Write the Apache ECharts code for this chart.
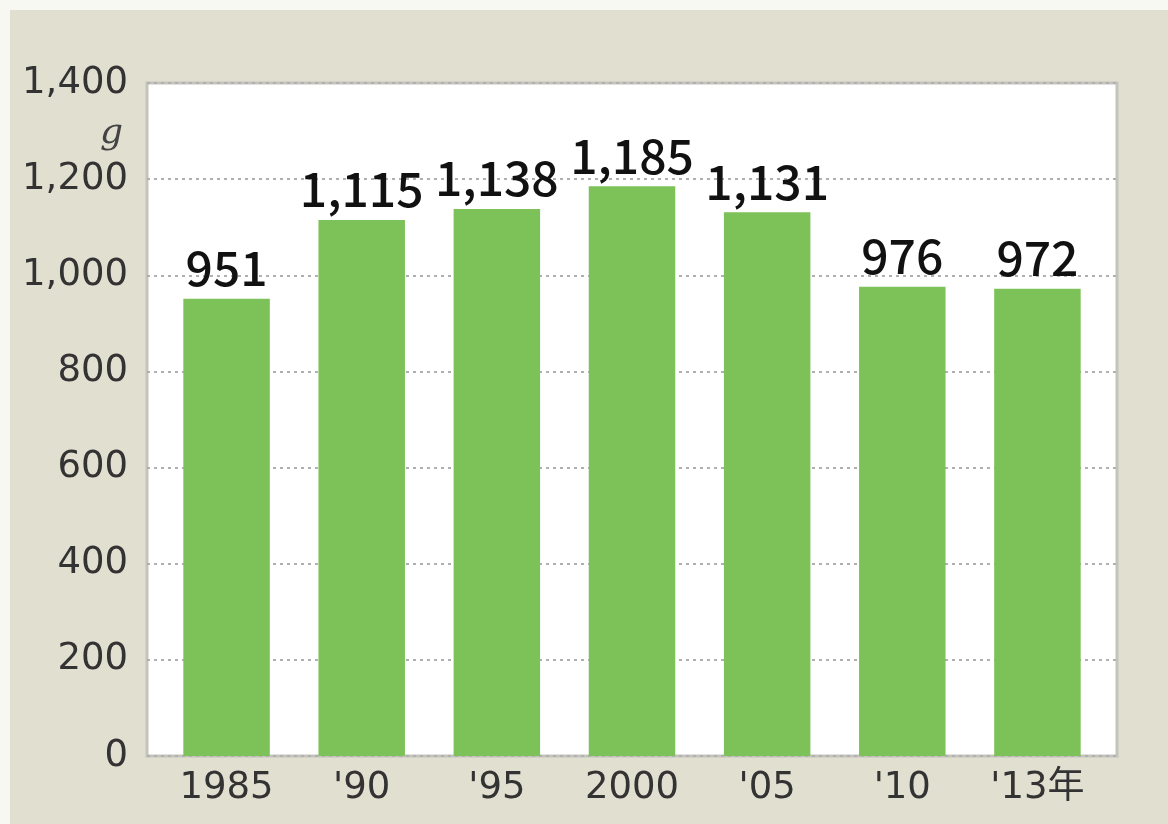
<!DOCTYPE html>
<html>
<head>
<meta charset="utf-8">
<script src="https://cdn.jsdelivr.net/npm/echarts@6/dist/echarts.min.js"></script>
<style>
  html, body { margin: 0; padding: 0; background: #f8f8f2; }
  #chart { width: 1168px; height: 824px; }
</style>
</head>
<body>
<div id="chart"></div>
<script>
// 年ごとの値 (g)
const years = ['1985', "'90", "'95", '2000', "'05", "'10", "'13年"];
const values = [951, 1115, 1138, 1185, 1131, 976, 972];
const yTicks = [0, 200, 400, 600, 800, 1000, 1200, 1400];

const AXIS_FONT = '"DejaVu Sans", "Noto Sans CJK JP", sans-serif';
const LABEL_FONT = '"Noto Sans CJK JP", "Noto Sans", sans-serif';

let myChart = echarts.init(document.getElementById('chart'));

let option = {
  backgroundColor: '#f8f8f2',
  animation: false,
  graphic: [
    {
      type: 'rect',
      shape: { x: 10, y: 10, width: 1158, height: 814 },
      style: { fill: '#e0dfd0' },
      z: -10
    },
    {
      type: 'text',
      left: 100, top: 116,
      style: { text: 'g', font: 'italic 36px "DejaVu Serif", serif', fill: '#444' }
    }
  ],
  grid: [
    // white panel + dotted grid lines
    {
      left: 147, right: 51, top: 83, bottom: 68,
      show: true,
      backgroundColor: '#ffffff',
      borderColor: '#c4c4bc',
      borderWidth: 3
    },
    // bars
    { left: 159, right: 63, top: 83, bottom: 68 }
  ],
  xAxis: [
    { type: 'value', gridIndex: 0, show: false, min: 0, max: 1 },
    {
      type: 'category',
      gridIndex: 1,
      data: years,
      axisLine: { show: false },
      axisTick: { show: false },
      axisLabel: {
        margin: 14,
        fontSize: 37,
        fontFamily: AXIS_FONT,
        color: '#333'
      }
    }
  ],
  yAxis: [
    {
      type: 'value',
      gridIndex: 0,
      min: yTicks[0],
      max: yTicks[yTicks.length - 1],
      interval: 200,
      axisLine: { show: false },
      axisTick: { show: false },
      axisLabel: {
        margin: 19,
        fontSize: 37,
        fontFamily: AXIS_FONT,
        color: '#333',
        formatter: v => v.toLocaleString('en-US')
      },
      splitLine: {
        lineStyle: { color: '#b0b0b0', type: [3, 4], width: 2 }
      }
    },
    {
      type: 'value',
      gridIndex: 1,
      min: yTicks[0],
      max: yTicks[yTicks.length - 1],
      interval: 200,
      show: false,
      splitLine: { show: false }
    }
  ],
  series: [
    {
      type: 'bar',
      xAxisIndex: 1,
      yAxisIndex: 1,
      data: values,
      barWidth: '64%',
      itemStyle: { color: '#7dc258' },
      label: {
        show: true,
        position: 'top',
        distance: 7,
        fontSize: 48,
        fontWeight: 500,
        fontFamily: LABEL_FONT,
        color: '#111',
        formatter: p => p.value.toLocaleString('en-US')
      }
    }
  ]
};

myChart.setOption(option);
</script>
</body>
</html>
